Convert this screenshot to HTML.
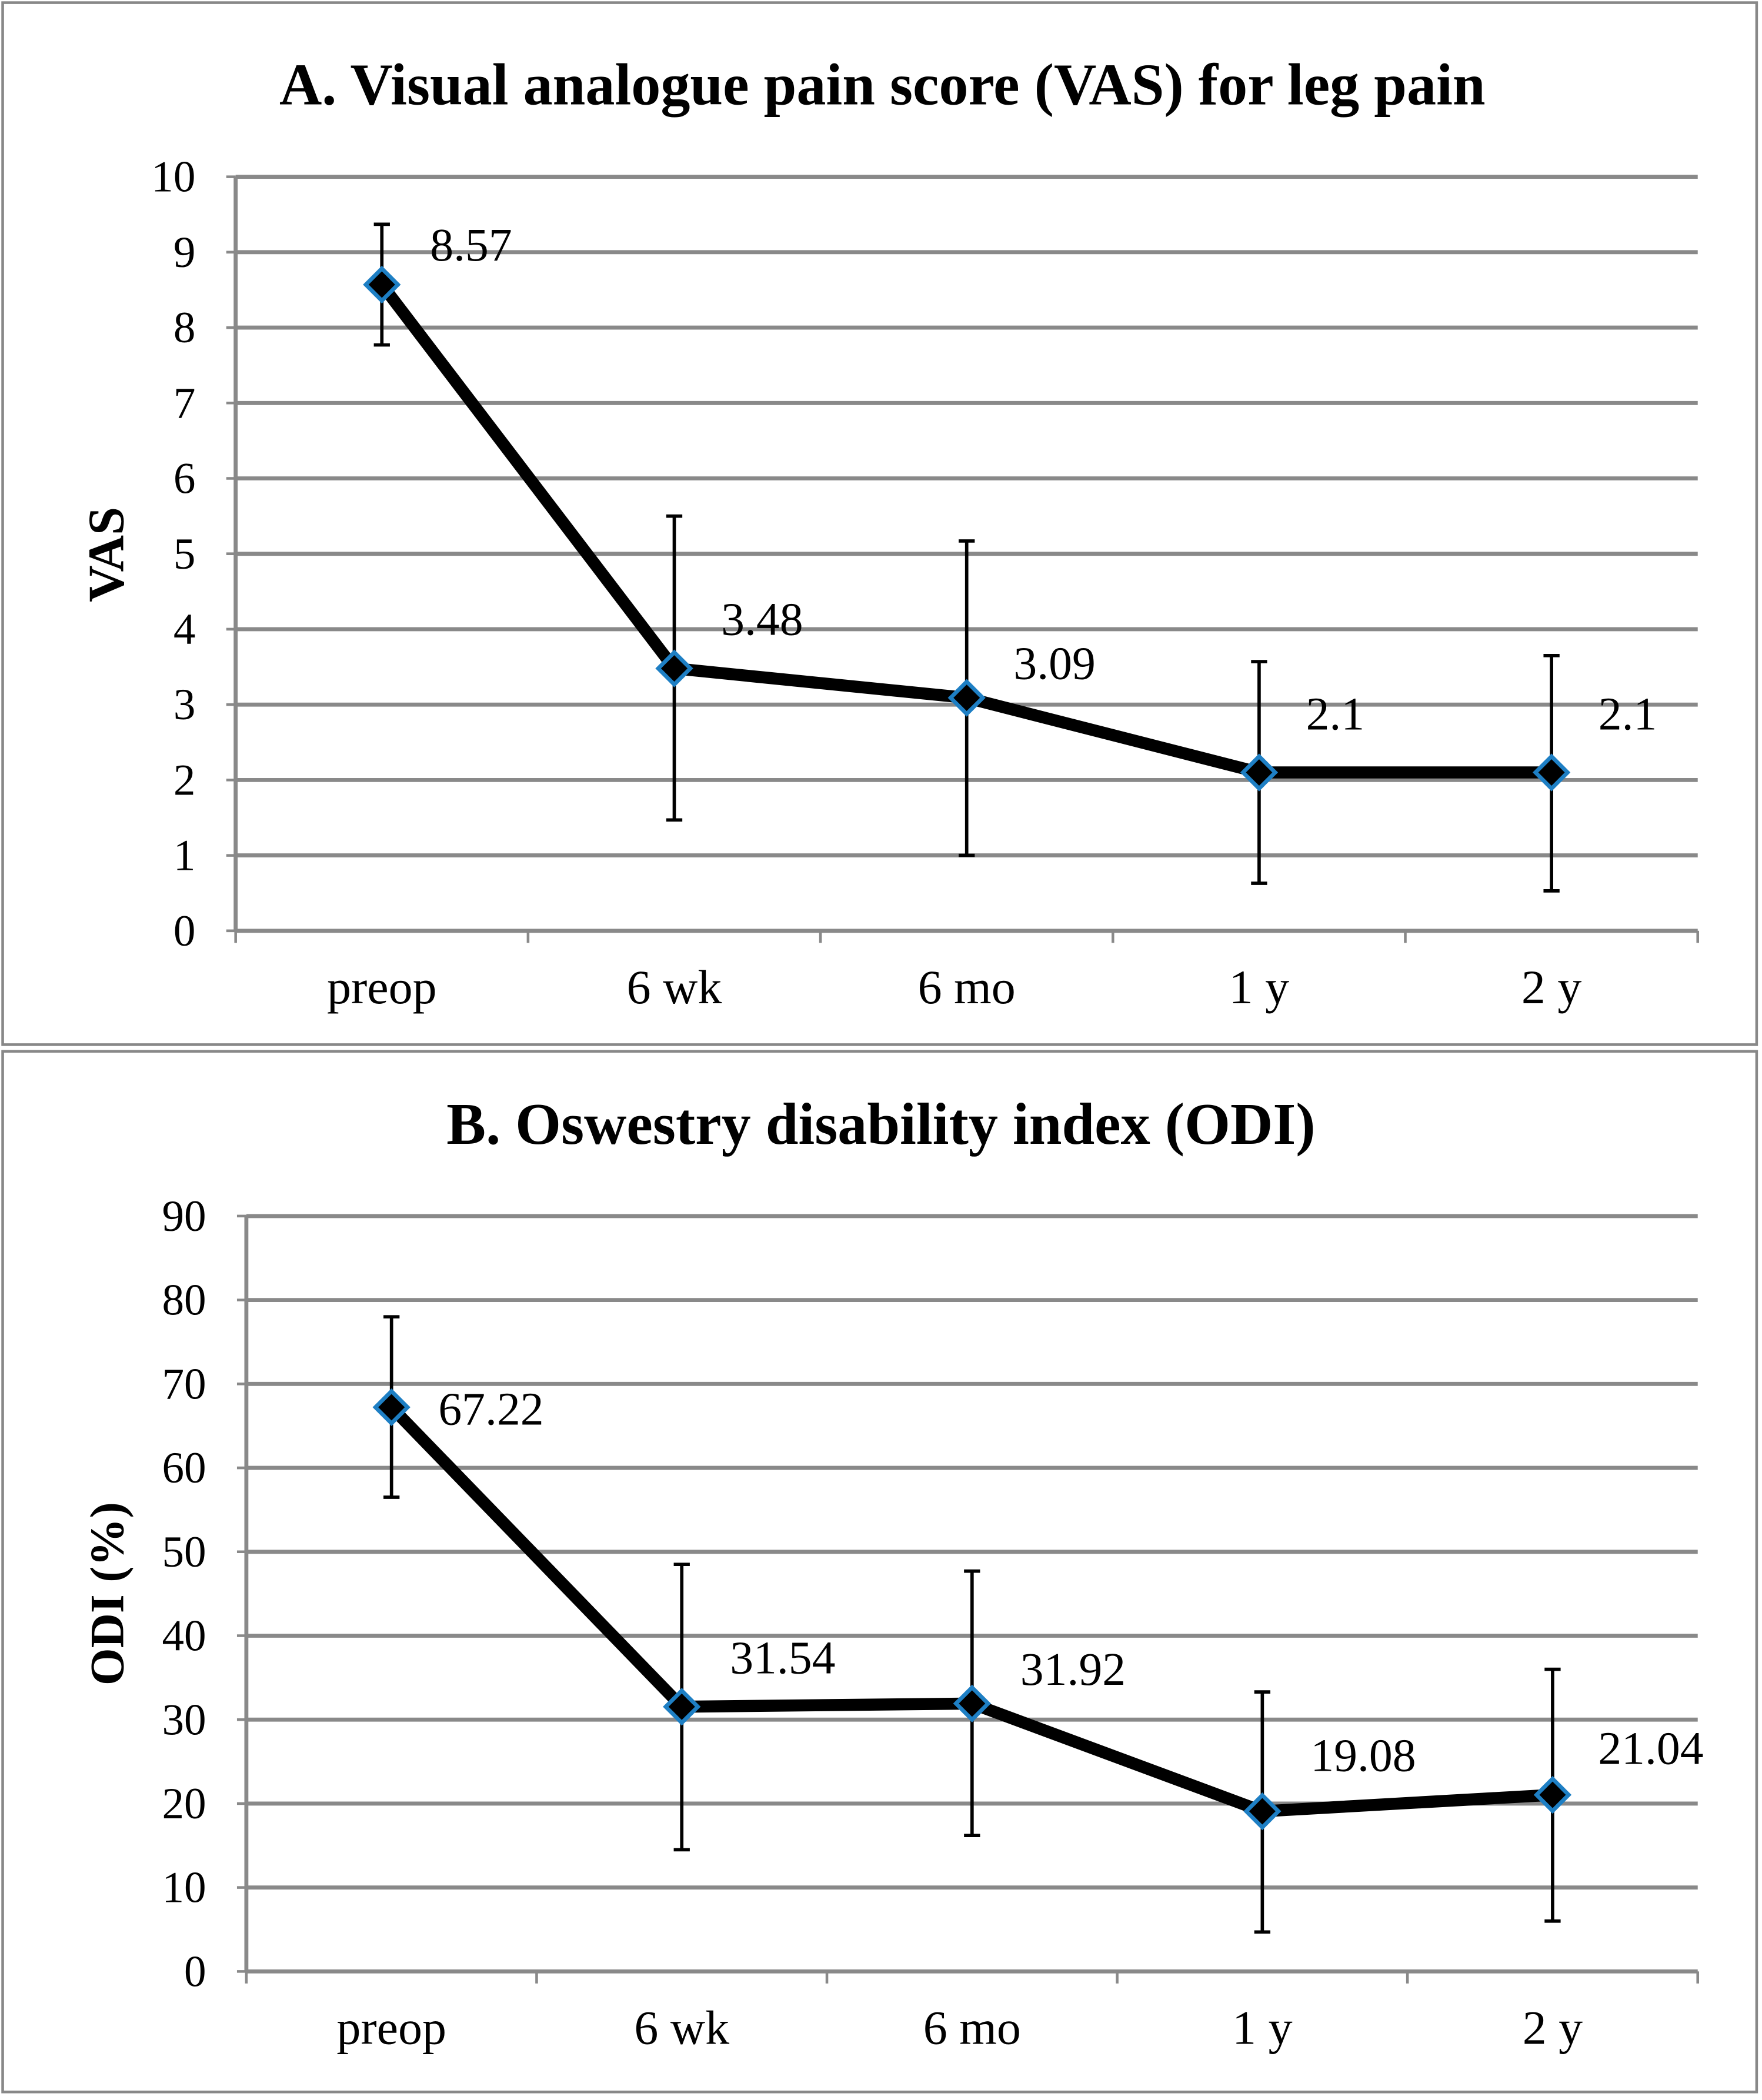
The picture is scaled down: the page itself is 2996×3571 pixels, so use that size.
<!DOCTYPE html>
<html><head><meta charset="utf-8"><style>
html,body{margin:0;padding:0;background:#fff;}
svg{display:block;}
text{font-family:"Liberation Serif",serif;fill:#000;}
</style></head><body>
<svg id="root" width="2996" height="3571" viewBox="0 0 1316 1568" preserveAspectRatio="none" xmlns="http://www.w3.org/2000/svg">
<rect x="2" y="2" width="1310" height="778" fill="#fff" stroke="#888" stroke-width="2"/>
<rect x="2" y="785" width="1310" height="777" fill="#fff" stroke="#888" stroke-width="2"/>
<text x="659" y="78" font-size="44" font-weight="bold" text-anchor="middle">A. Visual analogue pain score (VAS) for leg pain</text>
<text x="658" y="854" font-size="44" font-weight="bold" text-anchor="middle">B. Oswestry disability index (ODI)</text>
<text x="0" y="0" font-size="38" font-weight="bold" text-anchor="middle" transform="translate(92,414) rotate(-90)">VAS</text>
<text x="0" y="0" font-size="36" font-weight="bold" text-anchor="middle" transform="translate(92,1190) rotate(-90)">ODI (%)</text>
<g id="chartA"></g>
<g id="chartB"></g>
</svg>
<script>
const categories = ["preop","6 wk","6 mo","1 y","2 y"];
const vasValues = [8.57,3.48,3.09,2.1,2.1];
const vasLow = [7.77,1.47,1.0,0.63,0.53];
const vasHigh = [9.37,5.5,5.17,3.57,3.65];
const vasTicks = [0,1,2,3,4,5,6,7,8,9,10];
const vasLabels = ["8.57","3.48","3.09","2.1","2.1"];
const odiValues = [67.22,31.54,31.92,19.08,21.04];
const odiLow = [56.5,14.5,16.2,4.7,6.0];
const odiHigh = [78,48.5,47.7,33.3,36.0];
const odiTicks = [0,10,20,30,40,50,60,70,80,90];
const odiLabels = ["67.22","31.54","31.92","19.08","21.04"];

const NS="http://www.w3.org/2000/svg";
function mk(parent,tag,attrs){const e=document.createElementNS(NS,tag);for(const k in attrs)e.setAttribute(k,attrs[k]);parent.appendChild(e);return e;}

function draw(g,cfg){
  const {x0,x1,yBottom,yTop,max,ticks,vals,lo,hi,labels,offs,name}=cfg;
  const ys=v=>yBottom-(v/max)*(yBottom-yTop);
  const bw=(x1-x0)/categories.length;
  const xs=i=>x0+bw*(i+0.5);
  ticks.forEach(t=>{
    if(t>0){const l=mk(g,'line',{x1:x0,x2:x1,y1:ys(t),y2:ys(t),stroke:'#898989','stroke-width':3});
    
    }
    const tk=mk(g,'line',{x1:x0-7,x2:x0,y1:ys(t),y2:ys(t),stroke:'#898989','stroke-width':2});
    
    
    const tx=mk(g,'text',{x:x0-30,y:ys(t)+11,'font-size':33,'text-anchor':'end'});
    tx.textContent=t;
    
    
  });
  const ax=mk(g,'line',{x1:x0,x2:x0,y1:yTop,y2:yBottom,stroke:'#898989','stroke-width':3});
  
  
  const xa=mk(g,'line',{x1:x0,x2:x1,y1:yBottom,y2:yBottom,stroke:'#898989','stroke-width':3});
  
  
  for(let i=0;i<=categories.length;i++){
    const m=mk(g,'line',{x1:x0+bw*i,x2:x0+bw*i,y1:yBottom,y2:yBottom+9,stroke:'#898989','stroke-width':2});
    
    
  }
  categories.forEach((c,i)=>{
    const t=mk(g,'text',{x:xs(i),y:yBottom+54,'font-size':36,'text-anchor':'middle'});
    t.textContent=c;
    
    
  });
  vals.forEach((v,i)=>{
    const x=xs(i);
    const e=mk(g,'path',{d:`M${x},${ys(lo[i])}V${ys(hi[i])}M${x-6},${ys(lo[i])}H${x+6}M${x-6},${ys(hi[i])}H${x+6}`,stroke:'#000','stroke-width':2.5,fill:'none'});
    
    
  });
  const line=mk(g,'polyline',{points:vals.map((v,i)=>xs(i)+','+ys(v)).join(' '),fill:'none',stroke:'#000','stroke-width':9,'stroke-linejoin':'round'});
  
  
  vals.forEach((v,i)=>{
    const x=xs(i),y=ys(v);
    const p=mk(g,'polygon',{points:`${x},${y-12} ${x+12},${y} ${x},${y+12} ${x-12},${y}`,fill:'#000',stroke:'#1e7fc4','stroke-width':3});
    
    
    const t=mk(g,'text',{x:x+offs[i][0],y:y+offs[i][1],'font-size':35});
    t.textContent=labels[i];
    
    
  });
}
draw(document.getElementById('chartA'),{x0:176,x1:1268,yBottom:695,yTop:132,max:10,ticks:vasTicks,vals:vasValues,lo:vasLow,hi:vasHigh,labels:vasLabels,offs:[[36,-18],[35,-25],[35,-14],[35,-32],[35,-32]],name:'vas'});
draw(document.getElementById('chartB'),{x0:184,x1:1268,yBottom:1472,yTop:908,max:90,ticks:odiTicks,vals:odiValues,lo:odiLow,hi:odiHigh,labels:odiLabels,offs:[[35,13],[36,-25],[36,-14],[36,-30],[34,-23]],name:'odi'});
</script>
</body></html>
